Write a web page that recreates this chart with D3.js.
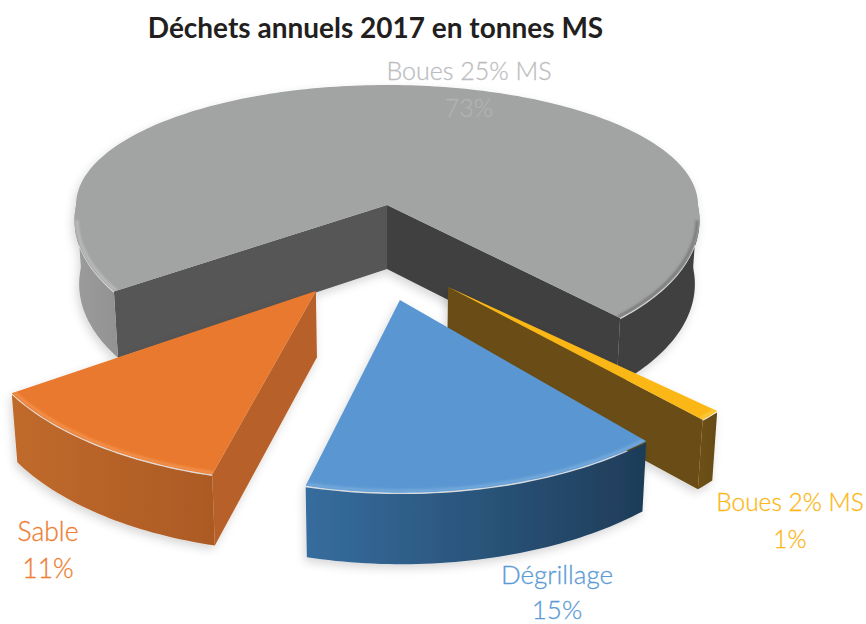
<!DOCTYPE html>
<html>
<head>
<meta charset="utf-8">
<script src="https://cdn.jsdelivr.net/npm/d3@7"></script>
<style>
html, body { margin: 0; background: #fff; }
svg { display: block; }
text { font-family: Lato, "Open Sans", sans-serif; text-anchor: middle; }
</style>
</head>
<body>
<script>
// data, clockwise from the Boues 25% slice (shares as measured on the drawing)
var categories = ['Boues 25% MS', 'Boues 2% MS', 'Dégrillage', 'Sable'];
var values = [72.2, 1, 15.4, 11.4];
var percents = ['73%', '1%', '15%', '11%'];

// how far each slice is pulled out of the pie (disc units), its size and small turn in degrees
var explodeX = [0, 0.186, 0.039, -0.216];
var explodeY = [0, 0.532, 0.611, 0.556];
var radius = [1, 1.025, 1.035, 1.035];
var turn = [0, -2.5, -0.5, -0.5];

var topColors = ['#a2a3a3', '#fbb714', '#5a97d2', '#e9792d'];
var rimColors = ['#c4c4c4', '#ffd04a', '#7fb0de', '#f59a58'];
var startWall = ['#565656', '#6b4e14', '#2c5a88', '#b7602a'];
var endWall = ['#414141', '#6b4e14', '#2c5a88', '#b9632a'];
var outerFrom = ['#969696', '#6d5014', '#366d9e', '#c06a2c'];
var outerTo = ['#414141', '#644a12', '#1e3c58', '#ac5a24'];
var labelColors = ['#bcbdc0', '#fbb714', '#5b9bd5', '#ee7d31'];
var percentColors = ['#b2b3b5', '#fbb714', '#5b9bd5', '#ee7d31'];
var labelX = [469, 790, 557, 48];
var labelY = [80, 511, 584, 541];
var percentY = [117, 548, 619, 578];
var labelSize = [25, 24.5, 26, 26.5];

var width = 866, height = 624;
var cx = 387, cy = 205, rx = 311, ryBack = 120, ryFront = 146, depth = 64, persp = 0.1;
var firstAngle = (146 + 90) * Math.PI / 180; // d3 angle of the first slice edge

var svg = d3.select('body').append('svg').attr('width', width).attr('height', height);
var defs = svg.append('defs');

var shadow = defs.append('filter').attr('id', 'shadow')
    .attr('x', '-10%').attr('y', '-10%').attr('width', '120%').attr('height', '125%');
shadow.append('feDropShadow').attr('dx', -2).attr('dy', 4).attr('stdDeviation', 5)
    .attr('flood-color', '#000').attr('flood-opacity', 0.16);
defs.append('filter').attr('id', 'soft')
    .attr('x', '-5%').attr('y', '-5%').attr('width', '110%').attr('height', '110%')
    .append('feGaussianBlur').attr('stdDeviation', 1.2);

var pie = d3.pie().sort(null).startAngle(firstAngle).endAngle(firstAngle + 2 * Math.PI);
var arcs = pie(values);

var line = d3.line().x(function (d) { return d[0]; }).y(function (d) { return d[1]; });

// disc coordinates -> screen, z is 0 on the top face and 1 at the bottom
function project(X, Y, z) {
    z = z || 0;
    var p = Y < 0 ? 1 : 1 / (1 - persp * Y);
    var x = cx + X * rx * p;
    var y = cy + Y * (Y < 0 ? ryBack : ryFront) * p;
    // the bottom of the walls leans a little towards the middle of the picture
    return [x - (x - cx) * 0.015 * z, y + z * depth * (1 + 0.6 * (p - 1))];
}
// d3 pie angle -> point on the disc of slice i
function discPoint(i, a, r) {
    return [explodeX[i] + r * radius[i] * Math.sin(a), explodeY[i] - r * radius[i] * Math.cos(a)];
}
function arcPoints(i, a0, a1, r, z) {
    var n = Math.max(2, Math.ceil(Math.abs(a1 - a0) / 0.02));
    return d3.range(n + 1).map(function (k) {
        var q = discPoint(i, a0 + (a1 - a0) * k / n, r);
        return project(q[0], q[1], z);
    });
}
// parts of the arc a0..a1 where test(a) holds
function arcRuns(a0, a1, test) {
    var runs = [], run = null;
    d3.range(a0, a1, 0.01).concat([a1]).forEach(function (a) {
        if (test(a)) {
            if (!run) { run = [a, a]; runs.push(run); }
            run[1] = a;
        } else {
            run = null;
        }
    });
    return runs;
}

// draw order: back to front
var order = [0, 1, 3, 2];

order.forEach(function (i) {
    var t = turn[i] * Math.PI / 180;
    var a0 = arcs[i].startAngle + t, a1 = arcs[i].endAngle + t;
    var apex = project(explodeX[i], explodeY[i], 0);
    var apexLow = project(explodeX[i], explodeY[i], 1);
    var g = svg.append('g').attr('class', 'slice').attr('filter', 'url(#shadow)');

    var xs = arcPoints(i, a0, a1, 1, 0).map(function (d) { return d[0]; });
    var grad = defs.append('linearGradient').attr('id', 'outer' + i)
        .attr('gradientUnits', 'userSpaceOnUse')
        .attr('x1', i === 0 ? cx - rx : d3.min(xs)).attr('x2', i === 0 ? cx + rx : d3.max(xs))
        .attr('y1', 0).attr('y2', 0);
    // the two visible parts of the grey wall are far apart
    var stops = i === 0 ? [[0, '#9b9b9b'], [0.13, '#8a8a8a'], [0.6, outerTo[0]], [1, outerTo[0]]]
                        : [[0, outerFrom[i]], [1, outerTo[i]]];
    grad.selectAll('stop').data(stops)
        .enter().append('stop')
        .attr('offset', function (d) { return d[0]; })
        .attr('stop-color', function (d) { return d[1]; });

    // cut walls, only the ones facing the viewer
    [[a0, -1, startWall[i]], [a1, 1, endWall[i]]].forEach(function (f) {
        var ny = -Math.cos(f[0] + f[1] * Math.PI / 2); // outward normal, disc coordinates
        if (ny <= 0) return;
        var q = discPoint(i, f[0], 1);
        var top = project(q[0], q[1], 0), low = project(q[0], q[1], 1);
        g.append('path').attr('d', line([apex, top, low, apexLow]) + 'Z').attr('fill', f[2]);
    });

    // outer wall on the front half of the disc
    arcRuns(a0, a1, function (a) { return -Math.cos(a) > -0.03; }).forEach(function (r) {
        var up = arcPoints(i, r[0], r[1], 1, 0.02);
        var low = arcPoints(i, r[1], r[0], 1, 1);
        g.append('path').attr('d', line(up.concat(low)) + 'Z').attr('fill', 'url(#outer' + i + ')');
    });

    // top face and its bevel, which only shows on the front rim
    var face = [apex].concat(arcPoints(i, a0, a1, 1, 0));
    g.append('path').attr('d', line(face) + 'Z').attr('fill', topColors[i]);

    defs.append('clipPath').attr('id', 'face' + i)
        .append('path').attr('d', line(face) + 'Z');
    var bevel = g.append('g').attr('clip-path', 'url(#face' + i + ')');
    arcRuns(a0, a1, function (a) { return -Math.cos(a) > 0.1; }).forEach(function (r) {
        // right hand part of the grey slice has a dark rim, not a light one
        var dark = i === 0 && Math.sin(r[0]) > 0;
        bevel.append('path').attr('d', line(arcPoints(i, r[0], r[1], 0.992, 0)))
            .attr('fill', 'none').attr('stroke', dark ? '#6e6e6e' : rimColors[i])
            .attr('stroke-width', 3).attr('stroke-opacity', 0.75)
            .attr('filter', 'url(#soft)');
    });
});

// labels
categories.forEach(function (c, i) {
    svg.append('text').attr('x', labelX[i]).attr('y', labelY[i])
        .attr('font-size', labelSize[i]).attr('font-weight', 300)
        .attr('fill', labelColors[i]).attr('stroke', labelColors[i]).attr('stroke-width', 0.3)
        .text(c);
    svg.append('text').attr('x', labelX[i]).attr('y', percentY[i])
        .attr('font-size', labelSize[i]).attr('font-weight', 300)
        .attr('fill', percentColors[i]).attr('stroke', percentColors[i]).attr('stroke-width', 0.3)
        .text(percents[i]);
});

svg.append('text').attr('x', 375.5).attr('y', 38)
    .attr('font-size', 28).attr('font-weight', 700).attr('fill', '#231f20')
    .text('Déchets annuels 2017 en tonnes MS');
</script>
</body>
</html>
